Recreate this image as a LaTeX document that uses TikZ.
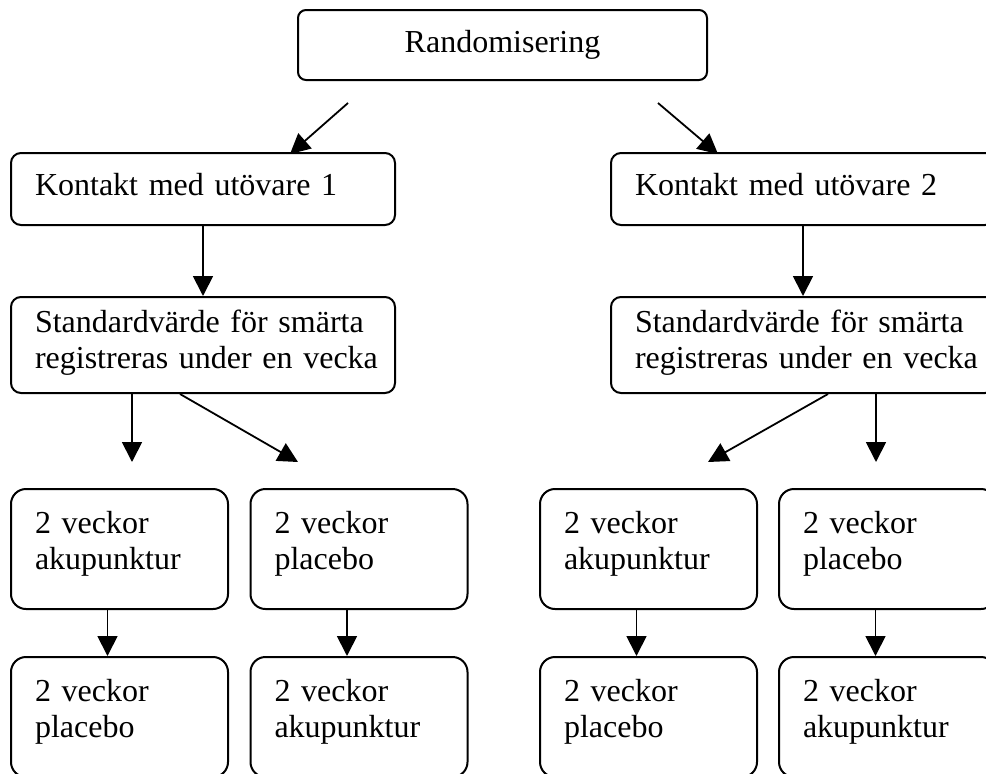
\documentclass[tikz,border=0pt]{standalone}
\usepackage{fontspec}
\setmainfont{Liberation Serif}
\usetikzlibrary{arrows.meta}

\begin{document}
\begin{tikzpicture}[x=1pt,y=-1pt,
    flowtext/.style={font=\fontsize{32pt}{36pt}\selectfont,text height=22pt},
    flowbox/.style={flowtext,draw,line width=2pt,rounded corners=10pt,align=left,
      inner xsep=24pt,inner ysep=0pt,text width=336pt,minimum width=384pt},
    smallbox/.style={flowbox,rounded corners=15pt,text width=169pt,
      minimum width=217pt,minimum height=120pt,text depth=54pt},
    arr/.style={line width=1.8pt,-{Triangle[length=20pt,width=20pt]}}]
  \useasboundingbox (0,0) rectangle (986,774);
  % top of the chart
  \node[flowtext,draw,line width=2pt,rounded corners=8pt,minimum width=409pt,
    minimum height=70pt,text depth=8pt] (rand) at (502.5,45) {Randomisering};
  \node[flowbox,minimum height=72pt,text depth=10pt] (k1) at (203,189) {Kontakt med utövare 1};
  \node[flowbox,minimum height=72pt,text depth=10pt] (k2) at (803,189) {Kontakt med utövare 2};
  \node[flowbox,minimum height=96pt,text depth=48pt] (s1) at (203,345)
    {\mbox{Standardvärde för smärta}\\\mbox{registreras under en vecka}};
  \node[flowbox,minimum height=96pt,text depth=48pt] (s2) at (803,345)
    {\mbox{Standardvärde för smärta}\\\mbox{registreras under en vecka}};
  \draw[arr] ([xshift=-154.5pt,yshift=-22pt]rand.south) -- ([xshift=87pt,yshift=-2pt]k1.north);
  \draw[arr] ([xshift=155.5pt,yshift=-22pt]rand.south) -- ([xshift=-85pt,yshift=-2pt]k2.north);
  \draw[arr] (k1) -- (s1);
  \draw[arr] (k2) -- (s2);
  % two weeks each, then cross over
  \foreach \n/\x/\early/\late in {1/119.5/akupunktur/placebo,2/359/placebo/akupunktur,
      3/648.5/akupunktur/placebo,4/887.5/placebo/akupunktur}{
    \node[smallbox] (m\n) at (\x,549) {2 veckor\\\early};
    \node[smallbox] (b\n) at (\x,717) {2 veckor\\\late};
    \draw[arr] ([xshift=-12pt]m\n.south) -- ([xshift=-12pt]b\n.north);
  }
  \draw[arr] ([xshift=-71pt]s1.south) -- ([xshift=12.5pt,yshift=26pt]m1.north);
  \draw[arr] ([xshift=-23pt]s1.south) -- ([xshift=-61pt,yshift=26pt]m2.north);
  \draw[arr] ([xshift=25pt]s2.south) -- ([xshift=59.5pt,yshift=26pt]m3.north);
  \draw[arr] ([xshift=73pt]s2.south) -- ([xshift=-11.5pt,yshift=26pt]m4.north);
\end{tikzpicture}
\end{document}
